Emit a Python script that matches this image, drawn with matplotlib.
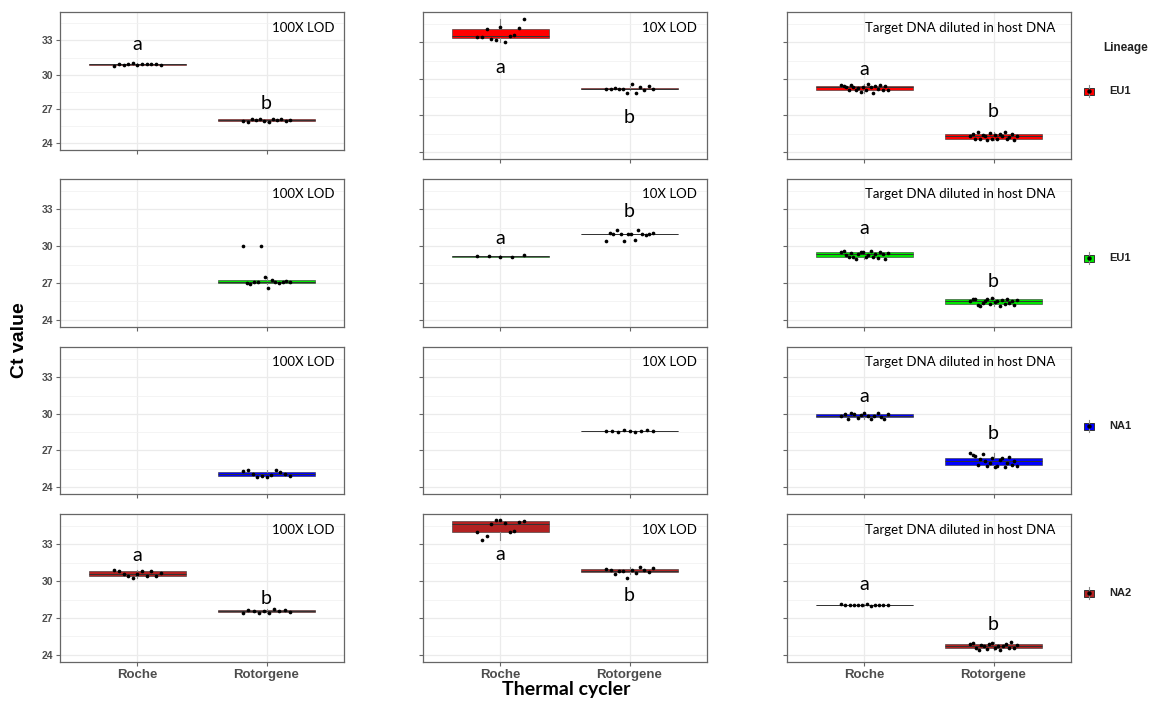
import matplotlib.pyplot as plt
from matplotlib.patches import Rectangle
import numpy as np

cyclers = ['Roche', 'Rotorgene']
conditions = ['100X LOD', '10X LOD', 'Target DNA diluted in host DNA']
lineages = ['EU1', 'EU1', 'NA1', 'NA2']
lineage_colors = ['#ff0000', '#00e600', '#0000ff', '#b22222']

# Ct values per thermal cycler, one pair of lists per panel
eu1_100x_roche = [30.8, 30.95, 30.85, 30.9, 31.0, 30.85, 30.9, 30.95, 30.9, 30.9, 30.85]
eu1_100x_rotor = [25.95, 25.9, 26.1, 26.0, 26.15, 25.95, 25.9, 26.1, 26.0, 26.1, 25.95, 26.05]
eu1_10x_roche = [33.45, 33.4, 34.05, 33.3, 33.2, 34.25, 33.0, 33.5, 33.6, 34.2, 34.9]
eu1_10x_rotor = [29.2, 29.2, 29.25, 29.15, 29.2, 28.85, 29.55, 28.85, 29.3, 29.1, 29.45, 29.2]
eu1_host_roche = [29.5, 29.45, 29.3, 29.1, 29.5, 29.3, 29.05, 29.25, 28.95, 29.35,
                  29.1, 29.55, 29.3, 28.85, 29.45, 29.2, 29.5, 29.05, 29.4, 29.1]
eu1_host_rotor = [25.3, 25.5, 25.1, 25.6, 25.05, 25.4, 25.3, 25.0, 25.55, 25.1,
                  25.35, 25.05, 25.5, 25.3, 25.6, 25.1, 25.2, 25.5, 24.95, 25.3]

eu1g_100x_roche = []
eu1g_100x_rotor = [30.0, 27.0, 26.95, 27.1, 27.05, 30.0, 27.5, 26.6, 27.25, 27.1, 27.0, 27.1, 27.15, 27.1]
eu1g_10x_roche = [29.2, 29.2, 29.15, 29.15, 29.25]
eu1g_10x_rotor = [30.4, 31.05, 31.0, 31.35, 31.0, 30.45, 31.0, 31.0, 30.55, 31.3, 31.0, 30.95, 31.0, 31.05]
eu1g_host_roche = [29.5, 29.6, 29.3, 29.1, 29.45, 29.1, 29.0, 29.35, 29.5, 29.55,
                   29.1, 29.3, 29.6, 29.15, 29.4, 29.05, 29.5, 29.35, 28.95, 29.45]
eu1g_host_rotor = [25.5, 25.7, 25.7, 25.2, 25.1, 25.4, 25.5, 25.7, 25.3, 25.75,
                   25.45, 25.55, 25.15, 25.65, 25.3, 25.7, 25.4, 25.5, 25.25, 25.6]

na1_100x_roche = []
na1_100x_rotor = [25.3, 25.4, 25.1, 24.8, 24.9, 24.85, 25.0, 25.4, 25.2, 25.05, 24.9]
na1_10x_roche = []
na1_10x_rotor = [28.6, 28.55, 28.5, 28.65, 28.6, 28.5, 28.6, 28.65, 28.6]
na1_host_roche = [29.8, 29.95, 29.6, 30.1, 30.0, 29.65, 29.9, 30.1, 29.8, 29.6,
                  29.85, 30.05, 29.75, 29.55, 30.0]
na1_host_rotor = [26.8, 26.6, 26.5, 25.8, 26.3, 26.7, 26.1, 25.7, 26.0, 26.4,
                  25.6, 25.7, 26.2, 26.35, 25.65, 26.0, 26.45, 25.8, 26.1, 25.75]

na2_100x_roche = [30.9, 30.8, 30.6, 30.4, 30.3, 30.6, 30.8, 30.45, 30.85, 30.4, 30.65]
na2_100x_rotor = [27.4, 27.65, 27.55, 27.45, 27.6, 27.45, 27.75, 27.55, 27.65, 27.5]
na2_10x_roche = [34.0, 33.4, 33.7, 34.7, 35.0, 35.0, 34.75, 34.05, 34.1, 34.8, 34.95]
na2_10x_rotor = [31.0, 30.9, 30.6, 30.85, 30.8, 30.3, 30.9, 30.7, 31.2, 30.95, 30.75, 31.05]
na2_host_roche = [28.15, 28.1, 28.05, 28.1, 28.1, 28.05, 28.15, 28.0, 28.1, 28.05, 28.1, 28.1]
na2_host_rotor = [24.9, 25.0, 24.55, 24.4, 24.8, 24.7, 24.5, 24.9, 25.0, 24.55,
                  24.75, 24.4, 24.7, 24.9, 24.6, 25.05, 24.55, 24.8]

# significance letters (letter, height) for Roche / Rotorgene
letters = [
    [[('a', 32.6), ('b', 27.5)], [('a', 30.95), ('b', 26.85)], [('a', 30.8), ('b', 27.3)]],
    [[], [('a', 30.65), ('b', 32.8)], [('a', 31.45), ('b', 27.15)]],
    [[], [], [('a', 31.4), ('b', 28.35)]],
    [[('a', 32.1), ('b', 28.6)], [('a', 32.2), ('b', 28.8)], [('a', 29.7), ('b', 26.5)]],
]

panels = [
    [(eu1_100x_roche, eu1_100x_rotor), (eu1_10x_roche, eu1_10x_rotor), (eu1_host_roche, eu1_host_rotor)],
    [(eu1g_100x_roche, eu1g_100x_rotor), (eu1g_10x_roche, eu1g_10x_rotor), (eu1g_host_roche, eu1g_host_rotor)],
    [(na1_100x_roche, na1_100x_rotor), (na1_10x_roche, na1_10x_rotor), (na1_host_roche, na1_host_rotor)],
    [(na2_100x_roche, na2_100x_rotor), (na2_10x_roche, na2_10x_rotor), (na2_host_roche, na2_host_rotor)],
]

W, H = 1152, 702
fig = plt.figure(figsize=(W / 100, H / 100), dpi=100)

col_left = [60, 423, 787]
col_w = 284
row_top = [12, 179, 347, 514]
row_bot = [159, 327, 494, 662]
title_off = [10, 10, 16]
grey = '#4d4d4d'


def px_axes(left, top, right, bottom):
    return fig.add_axes([left / W, 1 - bottom / H, (right - left) / W, (bottom - top) / H])


for r in range(4):
    for c in range(3):
        bottom = 150 if (r == 0 and c == 0) else row_bot[r]
        ax = px_axes(col_left[c], row_top[r], col_left[c] + col_w, bottom)

        color = lineage_colors[r]
        groups = panels[r][c]
        data = [g for g in groups if len(g)]
        pos = [i + 1 for i, g in enumerate(groups) if len(g)]
        ax.boxplot(data, positions=pos, widths=0.75, patch_artist=True,
                   showfliers=False, showcaps=False, manage_ticks=False,
                   boxprops=dict(facecolor=color, edgecolor='#333333', lw=0.4),
                   medianprops=dict(color='#333333', lw=0.7),
                   whiskerprops=dict(color='#888888', lw=0.8))

        # jittered raw values
        for p, g in zip(pos, data):
            xs = p + np.linspace(-0.18, 0.18, len(g))
            ax.scatter(xs, g, s=7, color='black', zorder=5, lw=0)

        ax.set_xlim(0.4, 2.6)
        ax.set_ylim(23.42, 35.48)
        ax.set_yticks([24, 27, 30, 33])
        ax.set_yticks([25.5, 28.5, 31.5, 34.5], minor=True)
        ax.set_xticks([1, 2])
        ax.grid(True, which='major', color='#ebebeb', lw=0.9, zorder=0)
        ax.grid(True, which='minor', axis='y', color='#f2f2f2', lw=0.6, zorder=0)
        ax.set_axisbelow(True)
        for s in ax.spines.values():
            s.set_color('#666666')
            s.set_linewidth(0.9)
        ax.tick_params(which='major', length=3, width=0.8, color='#666666', pad=2)
        ax.tick_params(which='minor', length=0)

        if c == 0:
            ax.set_yticklabels(['24', '27', '30', '33'], fontsize=7.5,
                               fontweight='bold', color=grey, family='Liberation Sans')
        else:
            ax.set_yticklabels([])
        if r == 3:
            ax.set_xticklabels(cyclers, fontsize=9.5, fontweight='bold',
                               color=grey, family='Liberation Sans')
        else:
            ax.set_xticklabels([])

        for i, (lab, y) in enumerate(letters[r][c]):
            ax.text(i + 1, y, lab, ha='center', va='center', fontsize=14, family='Lato')

        h = bottom - row_top[r]
        ax.text(1 - title_off[c] / col_w, 1 - 15.5 / h, conditions[c],
                transform=ax.transAxes, ha='right', va='center',
                fontsize=9.5, family='Lato')

# overlay in pixel coordinates for legend and axis titles
ov = fig.add_axes([0, 0, 1, 1])
ov.set_xlim(0, W)
ov.set_ylim(H, 0)
ov.axis('off')

ov.text(1126, 48, 'Lineage', ha='center', va='center', fontsize=8.5,
        fontweight='bold', family='Liberation Sans', color='#222222')
key_y = [91, 258, 426, 593]
for y, lab, color in zip(key_y, lineages, lineage_colors):
    ov.plot([1089, 1089], [y - 6, y + 6], color='#888888', lw=0.8)
    ov.add_patch(Rectangle((1084, y - 3.5), 10, 7, facecolor=color,
                           edgecolor='#333333', lw=0.7))
    ov.plot(1089, y, 'o', color='black', ms=2.2)
    ov.text(1109, y, lab, ha='left', va='center', fontsize=8,
            fontweight='bold', family='Liberation Sans', color='#222222')

ov.text(20, 340, 'Ct value', rotation=90, ha='center', va='center',
        fontsize=14, fontweight='bold', family='Liberation Sans')
ov.text(566, 690, 'Thermal cycler', ha='center', va='center',
        fontsize=14, fontweight='bold', family='Lato')

fig.savefig('out.png', dpi=100)
